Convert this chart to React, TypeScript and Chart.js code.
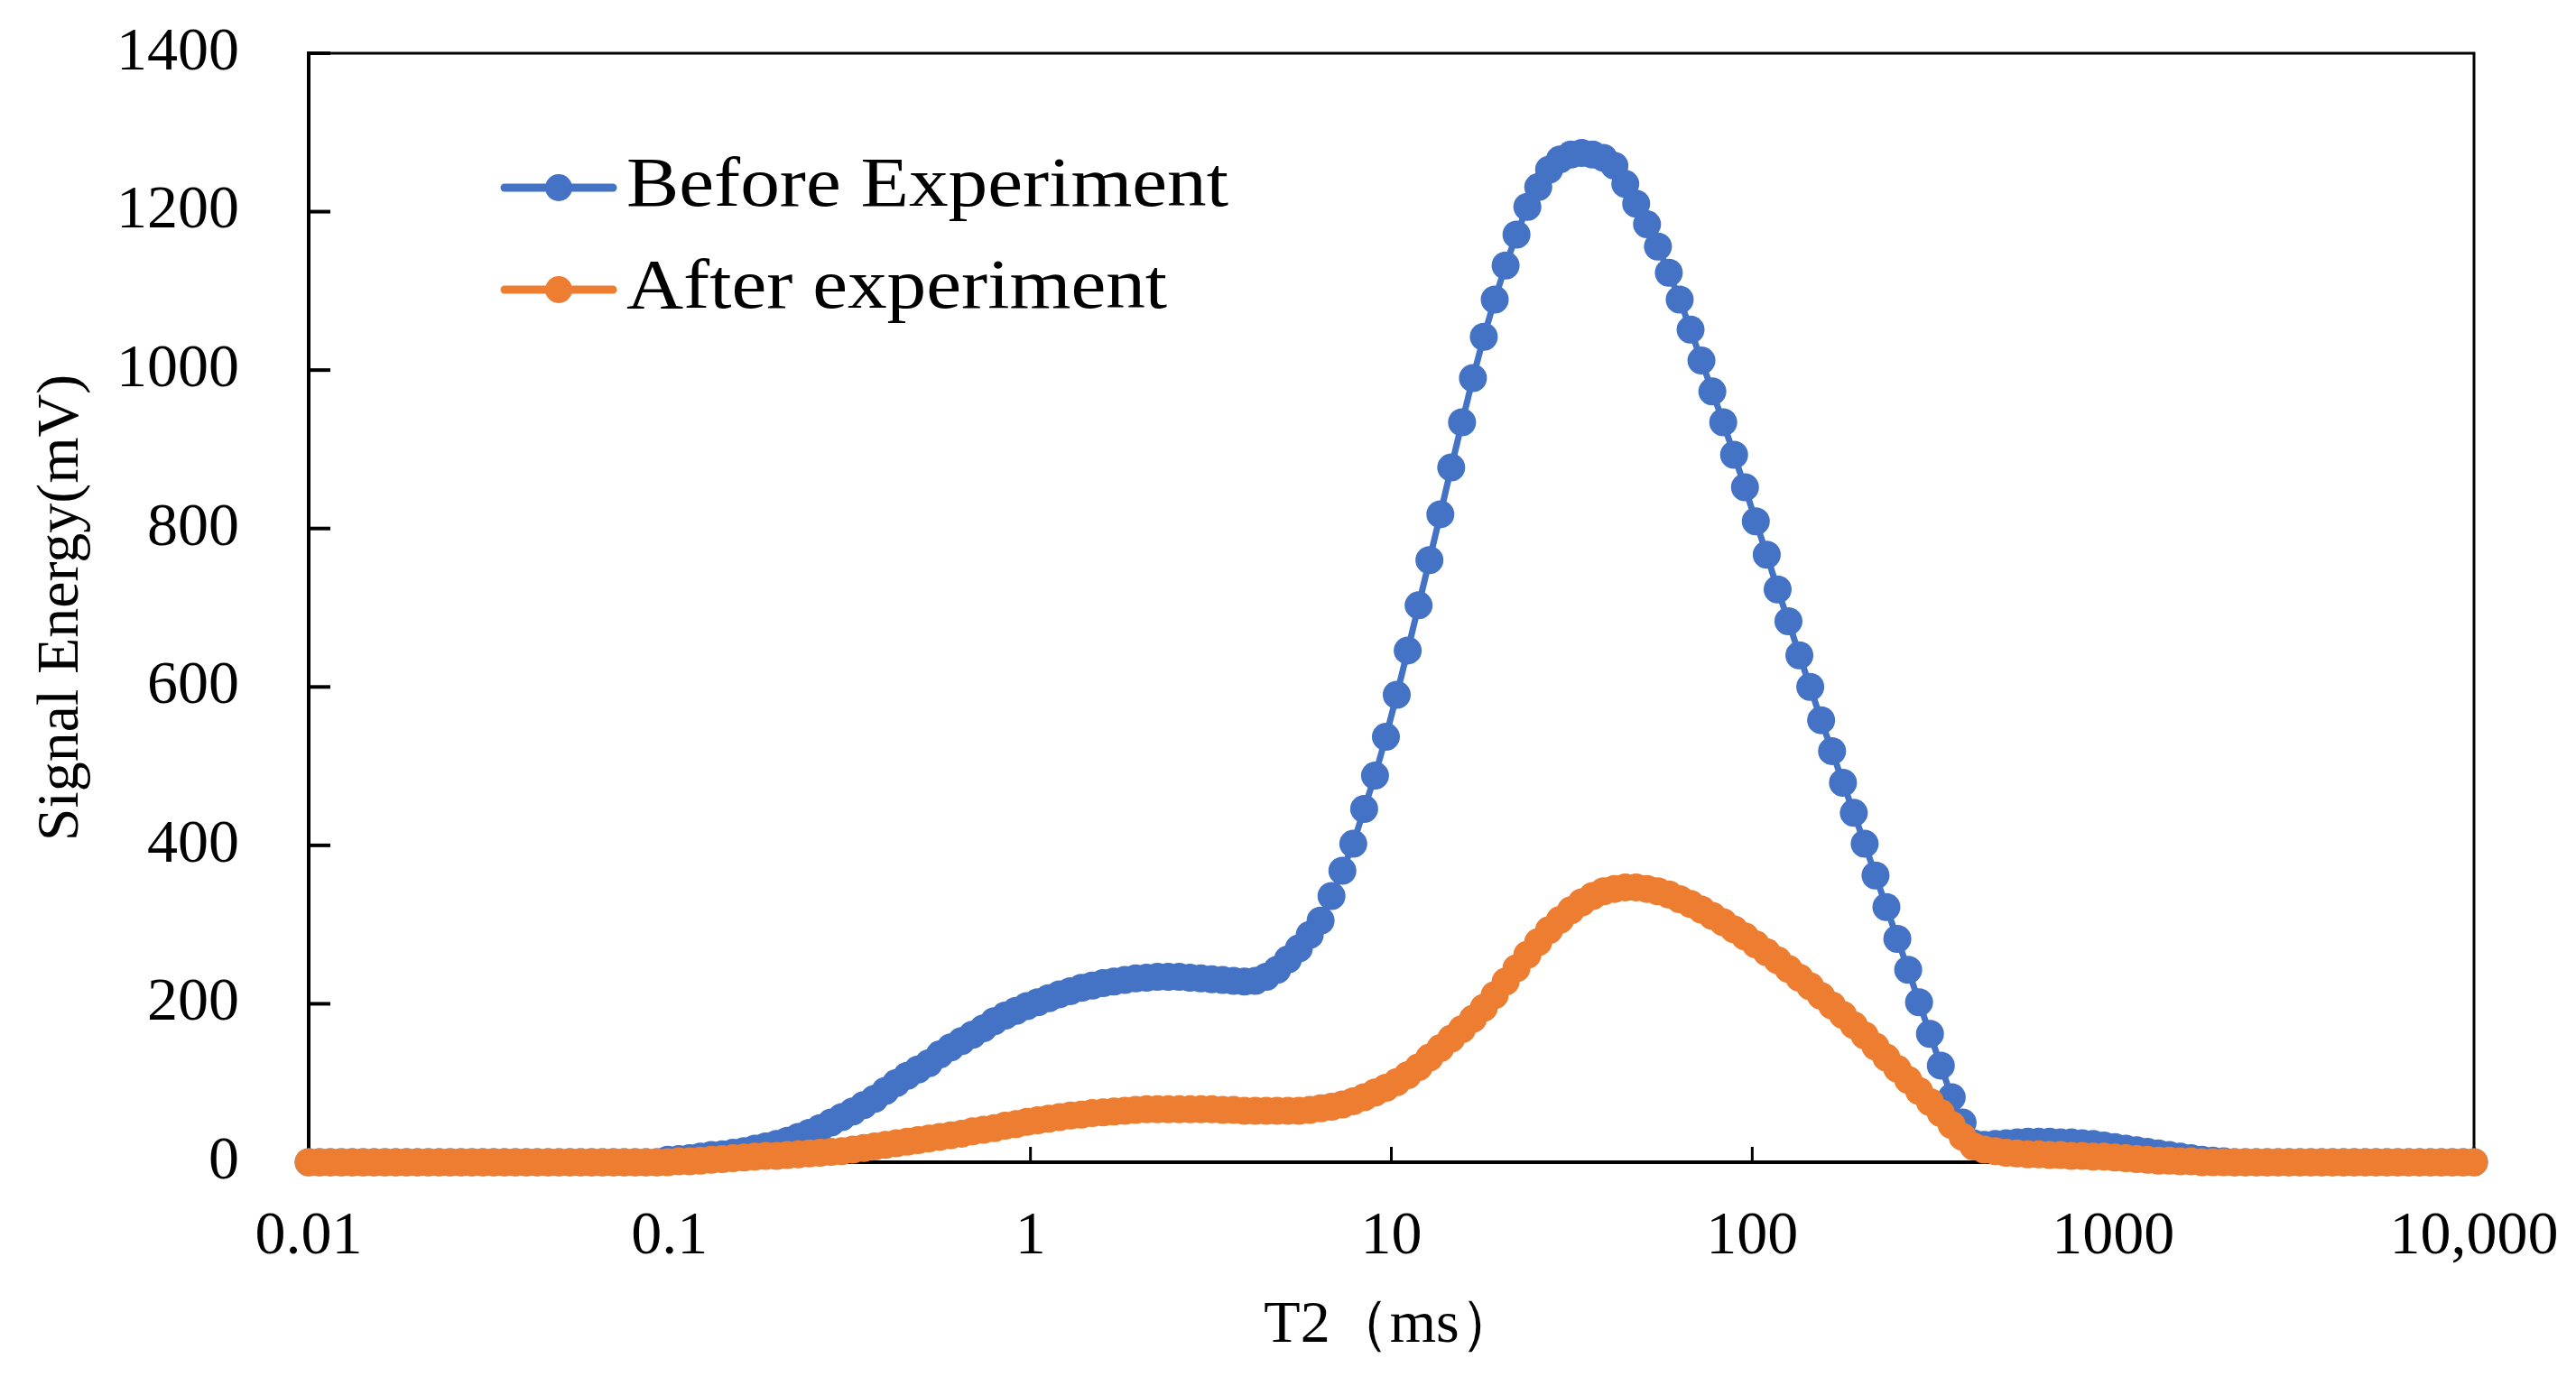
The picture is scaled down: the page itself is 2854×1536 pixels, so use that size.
import { useEffect, useRef } from "react"
import { Chart, registerables, type Plugin } from "chart.js"

Chart.register(...registerables)

// ── Page / theme ────────────────────────────────────────────
const W = 2854
const H = 1536
const BLUE   = "#4472C4"
const ORANGE = "#ED7D31"
const INK    = "#000000"
const SERIF  = "'Liberation Serif', 'Times New Roman', serif"

// ── Data ────────────────────────────────────────────────────
// T2 relaxation bins, ms (log spaced, 0.01 → 10,000)
const T2_MS = [
  0.01, 0.01072, 0.01149, 0.01232, 0.0132, 0.01415, 0.01517, 0.01626, 0.01743, 0.01868,
  0.02002, 0.02146, 0.023, 0.02466, 0.02643, 0.02833, 0.03037, 0.03255, 0.03489, 0.0374,
  0.04009, 0.04297, 0.04606, 0.04937, 0.05292, 0.05672, 0.0608, 0.06517, 0.06986, 0.07488,
  0.08026, 0.08604, 0.09222, 0.09885,
  0.106, 0.1136, 0.1217, 0.1305, 0.1399, 0.1499, 0.1607, 0.1723, 0.1846, 0.1979,
  0.2121, 0.2274, 0.2438, 0.2613, 0.2801, 0.3002, 0.3218, 0.3449, 0.3697, 0.3963,
  0.4248, 0.4553, 0.488, 0.5231, 0.5607, 0.601, 0.6442, 0.6906, 0.7402, 0.7934,
  0.8505, 0.9116, 0.9771,
  1.047, 1.123, 1.203, 1.29, 1.383, 1.482, 1.589, 1.703, 1.825, 1.956,
  2.097, 2.248, 2.409, 2.583, 2.768, 2.967, 3.181, 3.409, 3.654, 3.917,
  4.199, 4.501, 4.824, 5.171, 5.543, 5.941, 6.368, 6.826, 7.317, 7.843,
  8.407, 9.011, 9.659,
  10.35, 11.1, 11.9, 12.75, 13.67, 14.65, 15.7, 16.83, 18.04, 19.34,
  20.73, 22.22, 23.82, 25.53, 27.36, 29.33, 31.44, 33.7, 36.12, 38.72,
  41.5, 44.49, 47.69, 51.11, 54.79, 58.73, 62.95, 67.48, 72.33, 77.53,
  83.1, 89.07, 95.48,
  102.3, 109.7, 117.6, 126, 135.1, 144.8, 155.2, 166.4, 178.4, 191.2,
  204.9, 219.6, 235.4, 252.4, 270.5, 289.9, 310.8, 333.1, 357.1, 382.8,
  410.3, 439.8, 471.4, 505.3, 541.6, 580.5, 622.3, 667, 714.9, 766.3,
  821.4, 880.5, 943.8,
  1012, 1084, 1162, 1246, 1336, 1431, 1534, 1645, 1763, 1890,
  2026, 2171, 2327, 2495, 2674, 2866, 3072, 3293, 3530, 3784,
  4056, 4347, 4660, 4995, 5354, 5738, 6151, 6593, 7067, 7575,
  8120, 8704, 9329, 10000,
]

// Signal energy before the experiment, mV
const BEFORE = [
  0, 0, 0, 0, 0, 0, 0, 0, 0, 0,
  0, 0, 0, 0, 0, 0, 0, 0, 0, 0,
  0, 0, 0, 0, 0, 0, 0, 0, 0, 0,
  0, 0, 0,
  3, 4, 5, 7, 9, 10, 12, 14, 17, 20,
  23, 27, 32, 37, 43, 50, 57, 64, 72, 80,
  90, 100, 109, 117, 125, 136, 145, 153, 161, 169,
  178, 185, 191, 197,
  202, 207, 212, 216, 220, 223, 226, 228, 230, 232,
  233, 234, 234, 234, 233, 232, 231, 230, 229, 228,
  229, 234, 243, 256, 270, 287, 305, 336, 368, 402,
  446, 488, 537,
  590, 646, 703, 760, 818, 877, 934, 990, 1042, 1089,
  1132, 1171, 1206, 1231, 1253, 1266, 1272, 1274, 1272, 1268,
  1258, 1235, 1210, 1184, 1156, 1123, 1089, 1051, 1012, 973,
  934, 893, 852,
  809, 767, 723, 683, 640, 600, 558, 519, 479, 441,
  402, 362, 322, 282, 243, 202, 162, 122, 82, 50,
  24, 22, 23, 24, 25, 26, 26, 26, 25, 25,
  24, 23, 21,
  19, 17, 15, 13, 11, 9, 7, 5, 3, 2,
  1, 0, 0, 0, 0, 0, 0, 0, 0, 0,
  0, 0, 0, 0, 0, 0, 0, 0, 0, 0,
  0, 0, 0, 0,
]

// Signal energy after the experiment, mV
const AFTER = [
  0, 0, 0, 0, 0, 0, 0, 0, 0, 0,
  0, 0, 0, 0, 0, 0, 0, 0, 0, 0,
  0, 0, 0, 0, 0, 0, 0, 0, 0, 0,
  0, 0, 0, 0,
  1, 1, 2, 3, 4, 5, 6, 7, 8, 8,
  9, 10, 11, 12, 13, 14, 16, 18, 20, 22,
  24, 26, 28, 30, 32, 34, 36, 39, 41, 43,
  46, 48, 51,
  53, 55, 57, 59, 60, 62, 63, 64, 65, 66,
  67, 67, 67, 67, 67, 67, 67, 66, 66, 65,
  65, 65, 65, 65, 65, 66, 68, 70, 73, 77,
  82, 88, 94,
  101, 110, 120, 132, 144, 156, 168, 181, 195, 211,
  228, 245, 262, 278, 293, 306, 318, 328, 336, 342,
  345, 347, 347, 345, 342, 338, 332, 326, 319, 311,
  303, 294, 285,
  275, 265, 255, 244, 233, 222, 210, 198, 186, 173,
  160, 146, 132, 118, 104, 90, 76, 62, 47, 32,
  20, 16, 14, 12, 11, 10, 10, 9, 9, 8,
  8, 7, 7,
  6, 5, 4, 3, 2, 2, 1, 1, 0, 0,
  0, 0, 0, 0, 0, 0, 0, 0, 0, 0,
  0, 0, 0, 0, 0, 0, 0, 0, 0, 0,
  0, 0, 0, 0,
]

const SERIES_LABELS = ["Before Experiment", "After experiment"]
const X_TICKS       = [0.01, 0.1, 1, 10, 100, 1000, 10000]
const X_TICK_LABELS = ["0.01", "0.1", "1", "10", "100", "1000", "10,000"]
const X_TITLE = "T2（ms）"
const Y_TITLE = "Signal Energy(mV)"

const toPoints = (ys: number[]) => ys.map((y, i) => ({ x: T2_MS[i], y }))

// ── Box frame + inward tick marks (drawn under the markers) ─
const framePlugin: Plugin = {
  id: "frame",
  beforeDatasetsDraw(chart) {
    const { ctx, chartArea: a, scales } = chart
    ctx.save()
    ctx.strokeStyle = INK
    ctx.lineCap = "square"

    ctx.lineWidth = 3
    ctx.beginPath()
    ctx.moveTo(a.left, a.top)
    ctx.lineTo(a.right, a.top)
    ctx.lineTo(a.right, a.bottom)
    ctx.stroke()

    ctx.lineWidth = 4
    ctx.beginPath()
    ctx.moveTo(a.left, a.top)
    ctx.lineTo(a.left, a.bottom)
    ctx.lineTo(a.right, a.bottom)
    ctx.stroke()

    ctx.lineCap = "butt"
    ctx.lineWidth = 4
    for (const t of scales.y.ticks) {
      const y = scales.y.getPixelForValue(t.value)
      ctx.beginPath()
      ctx.moveTo(a.left, y)
      ctx.lineTo(a.left + 24, y)
      ctx.stroke()
    }
    ctx.lineWidth = 3
    for (const t of scales.x.ticks) {
      const x = scales.x.getPixelForValue(t.value)
      ctx.beginPath()
      ctx.moveTo(x, a.bottom)
      ctx.lineTo(x, a.bottom - 17)
      ctx.stroke()
    }
    ctx.restore()
  },
}

// ── Legend inside the plot, line + dot + serif label ───────
const legendPlugin: Plugin = {
  id: "insideLegend",
  afterDatasetsDraw(chart) {
    const { ctx, chartArea: a } = chart
    const rows = [a.top + 149, a.top + 262]
    ctx.save()
    chart.data.datasets.forEach((ds: any, i: number) => {
      const y = rows[i]
      ctx.strokeStyle = ds.borderColor
      ctx.fillStyle = ds.borderColor
      ctx.lineWidth = 9
      ctx.lineCap = "round"
      ctx.beginPath()
      ctx.moveTo(a.left + 217, y)
      ctx.lineTo(a.left + 337, y)
      ctx.stroke()
      ctx.beginPath()
      ctx.arc(a.left + 277, y, 15, 0, Math.PI * 2)
      ctx.fill()

      // the source figure's lettering is a touch wide, so stretch it a little
      ctx.save()
      ctx.translate(a.left + 352, y)
      ctx.scale(1.12, 1)
      ctx.fillStyle = INK
      ctx.font = `78px ${SERIF}`
      ctx.textAlign = "left"
      ctx.textBaseline = "middle"
      ctx.fillText(ds.label, 0, 0)
      ctx.restore()
    })
    ctx.restore()
  },
}

// ── Chart ───────────────────────────────────────────────────
export default function App() {
  const ref = useRef<HTMLCanvasElement>(null)

  useEffect(() => {
    document.body.style.margin = "0"
    if (!ref.current) return

    const series = {
      borderWidth: 7,
      pointRadius: 15.5,
      pointHoverRadius: 15.5,
      pointBorderWidth: 0,
      tension: 0,
      clip: false as const,
    }

    const chart = new Chart(ref.current, {
      type: "line",
      data: {
        datasets: [
          {
            ...series,
            label: SERIES_LABELS[0],
            data: toPoints(BEFORE),
            borderColor: BLUE,
            backgroundColor: BLUE,
            pointBackgroundColor: BLUE,
            order: 1,
          },
          {
            ...series,
            label: SERIES_LABELS[1],
            data: toPoints(AFTER),
            borderColor: ORANGE,
            backgroundColor: ORANGE,
            pointBackgroundColor: ORANGE,
            order: 0,
          },
        ],
      },
      options: {
        responsive: false,
        devicePixelRatio: 1,
        animation: false,
        events: [],
        layout: {
          autoPadding: false,
          padding: { left: 0, top: 59, right: 113, bottom: 0 },
        },
        plugins: {
          legend: { display: false },
          tooltip: { enabled: false },
        },
        scales: {
          x: {
            type: "logarithmic",
            position: "bottom",
            min: 0.01,
            max: 10000,
            grid: { display: false },
            border: { display: false },
            afterBuildTicks: (scale: any) => {
              scale.ticks = X_TICKS.map(v => ({ value: v }))
            },
            // fixed axis band; keep label overhang from shrinking the plot
            afterFit: (scale: any) => {
              scale.height = 248
              scale.paddingLeft = 0
              scale.paddingRight = 0
            },
            ticks: {
              autoSkip: false,
              maxRotation: 0,
              padding: 34,
              color: INK,
              font: { family: SERIF, size: 68 },
              callback: (v: any) => X_TICK_LABELS[X_TICKS.indexOf(Number(v))] ?? "",
            },
            title: {
              display: true,
              text: X_TITLE,
              color: INK,
              font: { family: SERIF, size: 66 },
              padding: { top: 0, bottom: 27 },
            },
          },
          y: {
            type: "linear",
            position: "left",
            min: 0,
            max: 1400,
            grid: { display: false },
            border: { display: false },
            afterFit: (scale: any) => {
              scale.width = 342
              scale.paddingTop = 0
              scale.paddingBottom = 0
            },
            ticks: {
              stepSize: 200,
              padding: 69,
              color: INK,
              font: { family: SERIF, size: 68 },
              callback: (v: any) => String(v),
            },
            title: {
              display: true,
              text: Y_TITLE,
              color: INK,
              font: { family: SERIF, size: 66 },
              padding: { top: 29, bottom: 0 },
            },
          },
        },
      },
      plugins: [framePlugin, legendPlugin],
    })

    return () => chart.destroy()
  }, [])

  return (
    <div style={{ width: W, height: H, background: "#ffffff" }}>
      <canvas ref={ref} width={W} height={H} style={{ width: W, height: H, display: "block" }} />
    </div>
  )
}
